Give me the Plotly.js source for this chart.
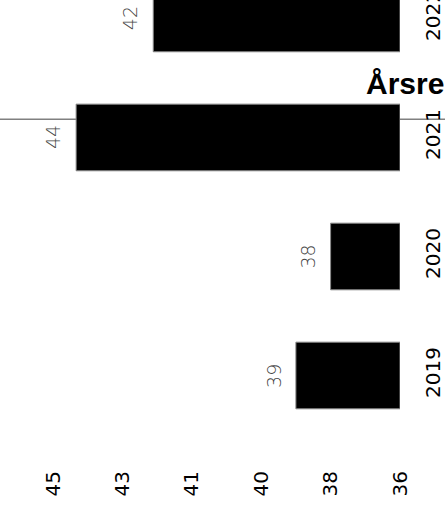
<!DOCTYPE html>
<html>
<head>
<meta charset="utf-8">
<script src="https://cdn.plot.ly/plotly-3.0.1.min.js"></script>
<style>html,body{margin:0;padding:0;background:#fff;}#chart{width:445px;height:510px;}</style>
</head>
<body>
<div id="chart"></div>
<script>
var years = ['2019', '2020', '2021', '2022'];
var values = [38.7, 37.8, 44.4, 42.4];
var axisBase = 36;
var axisMax = 45;
var titleText = 'Årsresultat';

var trace = {
  type: 'bar',
  orientation: 'h',
  y: years,
  x: values.map(function(v){ return v - axisBase; }),
  base: axisBase,
  marker: {color: '#000000', line: {color: '#888888', width: 1}},
  hoverinfo: 'none'
};

// category axes place annotations by category index
var labels = values.map(function(v, i){
  return {
    x: v, y: years.indexOf(years[i]), xref: 'x', yref: 'y',
    text: v.toFixed(0), showarrow: false, textangle: -90,
    xanchor: 'center', yanchor: 'middle', xshift: -22.5,
    font: {family: 'DejaVu Sans', size: 19, weight: 200, color: '#444444'}
  };
});

var layout = {
  width: 445, height: 510,
  margin: {l: 53, r: 45, t: 0, b: 50, pad: 0},
  paper_bgcolor: '#ffffff', plot_bgcolor: '#ffffff',
  showlegend: false,
  bargap: 0.44,
  title: {text: titleText, font: {family: 'Liberation Sans', size: 30, weight: 'bold', color: '#000000'},
          xref: 'container', yref: 'container', x: 0.8225, xanchor: 'left', y: 0.836, yanchor: 'middle'},
  xaxis: {range: [axisMax, axisBase], tick0: axisBase, dtick: 1.8, tickformat: '.0f',
          showgrid: false, zeroline: false, showline: false, ticks: '',
          tickangle: -90, ticklabelstandoff: 6,
          tickfont: {family: 'DejaVu Sans', size: 20, color: '#000000'}},
  yaxis: {type: 'category', range: [-0.71, 3.155], side: 'right',
          showgrid: false, zeroline: false, showline: false, ticks: '',
          tickangle: -90, ticklabelstandoff: 19,
          tickfont: {family: 'DejaVu Sans', size: 20, color: '#000000'}},
  annotations: labels,
  shapes: [{type: 'line', xref: 'paper', yref: 'paper', x0: -0.2, x1: 1.2, y0: 0.741, y1: 0.741,
            line: {color: '#808080', width: 1.5}, layer: 'below'}]
};

Plotly.newPlot('chart', [trace], layout, {staticPlot: true, displayModeBar: false});
</script>
</body>
</html>
